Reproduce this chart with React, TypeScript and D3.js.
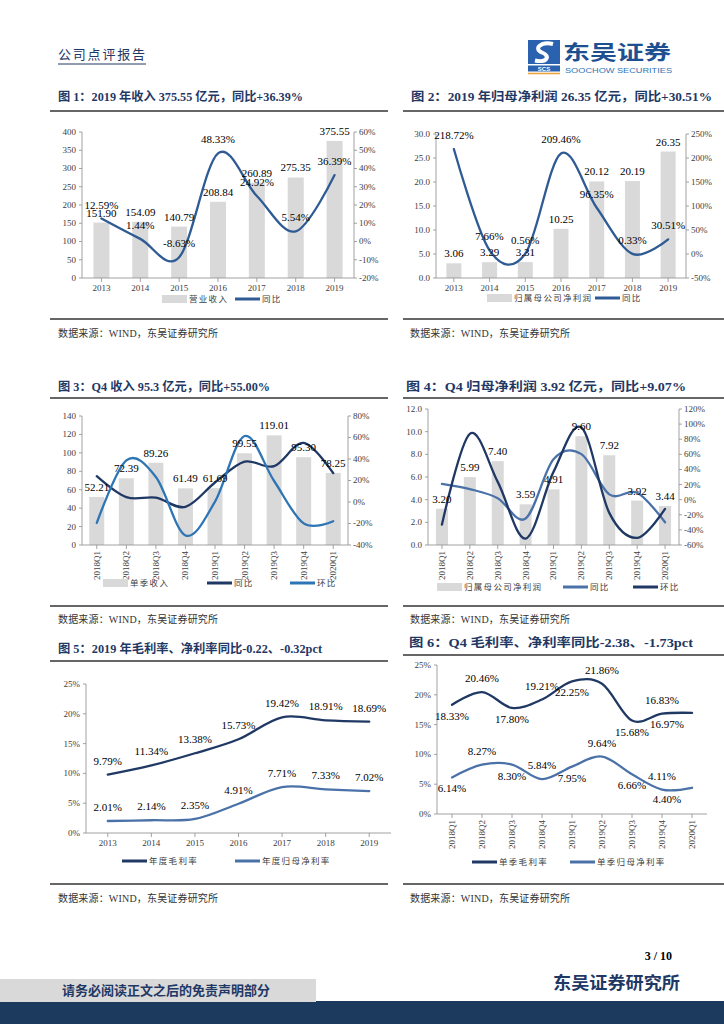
import React from 'react';
import * as d3 from 'd3';

// ---- data ----
const YEARS = ['2013', '2014', '2015', '2016', '2017', '2018', '2019'];
const QUARTERS = ['2018Q1', '2018Q2', '2018Q3', '2018Q4', '2019Q1', '2019Q2', '2019Q3', '2019Q4', '2020Q1'];

const REVENUE = [151.9, 154.09, 140.79, 208.84, 260.89, 275.35, 375.55];
const REVENUE_YOY = [12.59, 1.44, -8.63, 48.33, 24.92, 5.54, 36.39];

const NET_PROFIT = [3.06, 3.29, 3.31, 10.25, 20.12, 20.19, 26.35];
const NET_PROFIT_YOY = [218.72, 7.66, 0.56, 209.46, 96.35, 0.33, 30.51];

const Q_REVENUE = [52.21, 72.39, 89.26, 61.49, 61.69, 99.55, 119.01, 95.3, 78.25];
const Q_REVENUE_YOY = [24.0, 4.5, 4.0, -4.5, 18.16, 37.52, 33.33, 54.98, 26.84];
const Q_REVENUE_QOQ = [-19.5, 38.65, 23.3, -31.11, 0.33, 61.37, 19.55, -19.92, -17.89];

const Q_PROFIT = [3.2, 5.99, 7.4, 3.59, 4.91, 9.6, 7.92, 3.92, 3.44];
const Q_PROFIT_YOY = [21.0, 14.0, 2.0, -25.0, 53.44, 60.27, 7.03, 9.07, -29.94];
const Q_PROFIT_QOQ = [-33.0, 87.19, 23.54, -51.49, 36.77, 95.52, -17.5, -50.51, -12.24];

const GROSS_MARGIN = [9.79, 11.34, 13.38, 15.73, 19.42, 18.91, 18.69];
const NET_MARGIN = [2.01, 2.14, 2.35, 4.91, 7.71, 7.33, 7.02];

const Q_GROSS_MARGIN = [18.33, 20.46, 17.8, 19.21, 22.25, 21.86, 15.68, 16.83, 16.97];
const Q_NET_MARGIN = [6.14, 8.27, 8.3, 5.84, 7.95, 9.64, 6.66, 4.11, 4.4];

const TICKS_REV = [0, 50, 100, 150, 200, 250, 300, 350, 400];
const TICKS_REV_PCT = [-20, -10, 0, 10, 20, 30, 40, 50, 60];
const TICKS_NP = [0, 5, 10, 15, 20, 25, 30];
const TICKS_NP_PCT = [-50, 0, 50, 100, 150, 200, 250];
const TICKS_QREV = [0, 20, 40, 60, 80, 100, 120, 140];
const TICKS_QREV_PCT = [-40, -20, 0, 20, 40, 60, 80];
const TICKS_QNP = [0, 2, 4, 6, 8, 10, 12];
const TICKS_QNP_PCT = [-60, -40, -20, 0, 20, 40, 60, 80, 100, 120];
const TICKS_MARGIN = [0, 5, 10, 15, 20, 25];

// label placement for fig 6 (a = above, b = below, bl = below-left)
const Q_GROSS_POS = ['b', 'a', 'b', 'a', 'b', 'a', 'b', 'a', 'bl'];
const Q_NET_POS = ['b', 'a', 'b', 'a', 'b', 'a', 'b', 'a', 'bl'];

// ---- style ----
const SERIF = '"Liberation Serif", "Times New Roman", "Noto Sans CJK SC", serif';
const CJK = '"Noto Sans CJK SC", "Liberation Serif", sans-serif';
const NAVY = '#1f3864';
const AXIS = '#8c8c8c';
const TICK_TXT = '#404040';
const BAR = '#d9d9d9';
const MID_BLUE = '#2f5b94';
const LIGHT_BLUE = '#2e75b6';
const STEEL = '#4a72a8';

type LineSpec = {
  values: number[];
  color: string;
  right?: boolean;
  labels?: boolean;
  pos?: string[];
};
type LegendItem = { kind: 'bar' | 'line'; color: string; label: string; x: number };
type ChartProps = {
  box: { x0: number; x1: number; y0: number; y1: number };
  cats: string[];
  leftDomain: [number, number];
  leftTicks: number[];
  leftFmt: (d: number) => string;
  rightDomain?: [number, number];
  rightTicks?: number[];
  bars?: number[];
  barWidth?: number;
  lines: LineSpec[];
  rotate?: boolean;
  legendY: number;
  legend: LegendItem[];
};

const pct = (d: number) => `${d}%`;

function Chart(p: ChartProps) {
  const { x0, x1, y0, y1 } = p.box;
  const band = d3.scaleBand<string>().domain(p.cats).range([x0, x1]);
  const cx = (i: number) => (band(p.cats[i]) ?? 0) + band.bandwidth() / 2;
  const yL = d3.scaleLinear().domain(p.leftDomain).range([y1, y0]);
  const yR = p.rightDomain ? d3.scaleLinear().domain(p.rightDomain).range([y1, y0]) : yL;
  const bw = p.barWidth ?? 15;

  return (
    <g>
      {p.bars &&
        p.bars.map((v, i) => (
          <rect key={i} x={cx(i) - bw / 2} y={yL(v)} width={bw} height={y1 - yL(v)} fill={BAR} />
        ))}

      {/* axes */}
      <line x1={x0} x2={x0} y1={y0} y2={y1} stroke={AXIS} strokeWidth={0.8} />
      <line x1={x0} x2={x1} y1={y1} y2={y1} stroke={AXIS} strokeWidth={0.8} />
      {p.rightDomain && <line x1={x1} x2={x1} y1={y0} y2={y1} stroke={AXIS} strokeWidth={0.8} />}
      {p.leftTicks.map((t) => (
        <g key={`l${t}`}>
          <line x1={x0 - 3} x2={x0} y1={yL(t)} y2={yL(t)} stroke={AXIS} strokeWidth={0.8} />
          <text x={x0 - 6} y={yL(t)} dy="0.33em" textAnchor="end" fontSize={9} fill={TICK_TXT} fontFamily={SERIF}>
            {p.leftFmt(t)}
          </text>
        </g>
      ))}
      {p.rightTicks &&
        p.rightTicks.map((t) => (
          <g key={`r${t}`}>
            <line x1={x1} x2={x1 + 3} y1={yR(t)} y2={yR(t)} stroke={AXIS} strokeWidth={0.8} />
            <text x={x1 + 5} y={yR(t)} dy="0.33em" fontSize={9} fill={TICK_TXT} fontFamily={SERIF}>
              {pct(t)}
            </text>
          </g>
        ))}
      {p.cats.map((c, i) => (
        <g key={c}>
          <line x1={cx(i)} x2={cx(i)} y1={y1} y2={y1 + 4} stroke={AXIS} strokeWidth={0.8} />
          {p.rotate ? (
            <text
              transform={`translate(${cx(i)},${y1 + 6}) rotate(-90)`}
              dy="0.33em"
              textAnchor="end"
              fontSize={9}
              fill={TICK_TXT}
              fontFamily={SERIF}
            >
              {c}
            </text>
          ) : (
            <text x={cx(i)} y={y1 + 13} textAnchor="middle" fontSize={9} fill={TICK_TXT} fontFamily={SERIF}>
              {c}
            </text>
          )}
        </g>
      ))}

      {/* lines */}
      {p.lines.map((ln, k) => {
        const ys = ln.right ? yR : yL;
        const path = d3
          .line<number>()
          .x((_, i) => cx(i))
          .y((v) => ys(v))
          .curve(d3.curveCardinal.tension(0))(ln.values);
        return <path key={k} d={path ?? ''} fill="none" stroke={ln.color} strokeWidth={2.3} strokeLinecap="round" />;
      })}

      {/* bar labels */}
      {p.bars &&
        p.bars.map((v, i) => (
          <text key={`bl${i}`} x={cx(i)} y={yL(v) - 6} textAnchor="middle" fontSize={11} fill="#000" fontFamily={SERIF}>
            {v.toFixed(2)}
          </text>
        ))}

      {/* line labels */}
      {p.lines.map((ln, k) =>
        ln.labels
          ? ln.values.map((v, i) => {
              const ys = ln.right ? yR : yL;
              const pos = ln.pos ? ln.pos[i] : 'a';
              const dx = pos === 'bl' ? -25 : 0;
              const dy = pos === 'a' ? -10 : 15;
              return (
                <text
                  key={`ll${k}-${i}`}
                  x={cx(i) + dx}
                  y={ys(v) + dy}
                  textAnchor="middle"
                  fontSize={11}
                  fill="#000"
                  fontFamily={SERIF}
                >
                  {v.toFixed(2)}%
                </text>
              );
            })
          : null
      )}

      {/* legend */}
      {p.legend.map((it) => (
        <g key={it.label + it.x}>
          {it.kind === 'bar' ? (
            <rect x={it.x} y={p.legendY - 4} width={25} height={8} fill={BAR} />
          ) : (
            <line x1={it.x} x2={it.x + 25} y1={p.legendY} y2={p.legendY} stroke={it.color} strokeWidth={3} />
          )}
          <text
            x={it.x + 27}
            y={p.legendY}
            dy="0.35em"
            fontSize={8.5}
            letterSpacing={1.3}
            fill={TICK_TXT}
            fontFamily={CJK}
          >
            {it.label}
          </text>
        </g>
      ))}
    </g>
  );
}

function Title({ x, y, text, len }: { x: number; y: number; text: string; len: number }) {
  return (
    <text
      x={x}
      y={y}
      fontSize={12}
      fontWeight="bold"
      fill={NAVY}
      fontFamily={SERIF}
      textLength={len}
      lengthAdjust="spacingAndGlyphs"
    >
      {text}
    </text>
  );
}

function Source({ x, y }: { x: number; y: number }) {
  return (
    <text
      x={x}
      y={y}
      fontSize={10}
      fill="#333"
      fontFamily={'"Liberation Serif", "Noto Sans CJK SC"'}
      textLength={160}
      lengthAdjust="spacing"
    >
      数据来源：WIND，东吴证券研究所
    </text>
  );
}

function Rule({ x1, x2, y }: { x1: number; x2: number; y: number }) {
  return <line x1={x1} x2={x2} y1={y} y2={y} stroke="#333" strokeWidth={1.6} />;
}

export default function App() {
  return (
    <div style={{ position: 'absolute', left: 0, top: 0, width: 724, height: 1024, background: '#fff' }}>
      <svg width={724} height={1024} style={{ display: 'block' }}>
        {/* header */}
        <text x={58} y={59} fontSize={13} fill={NAVY} fontFamily={CJK} textLength={87} lengthAdjust="spacing">
          公司点评报告
        </text>
        <line x1={58} x2={146} y1={64} y2={64} stroke={NAVY} strokeWidth={1} />
        <g>
          <rect x={528} y={40} width={32} height={24} fill="#2a62b0" />
          <path d="M553 44 C541 41, 533 49, 542 52.5 C551 56, 547 63, 535 60.5" fill="none" stroke="#fff" strokeWidth={4} />
          <rect x={528} y={65.5} width={32} height={6} fill="#2a62b0" />
          <text x={544} y={70.8} textAnchor="middle" fontSize={6} fontWeight="bold" fill="#fff" fontFamily="Liberation Sans">
            SCS
          </text>
          <line x1={528} x2={560} y1={73.5} y2={73.5} stroke="#f0a43c" strokeWidth={1.6} />
          <text x={563} y={60} fontSize={20} fontWeight="bold" fill="#1d4f91" fontFamily={CJK} textLength={108} lengthAdjust="spacingAndGlyphs">
            东吴证券
          </text>
          <text x={565} y={73} fontSize={8} fill="#2e75b6" fontFamily="Liberation Sans" textLength={107} lengthAdjust="spacingAndGlyphs">
            SOOCHOW SECURITIES
          </text>
        </g>

        {/* row 1 */}
        <Title x={58} y={101} len={245} text="图 1：2019 年收入 375.55 亿元，同比+36.39%" />
        <Title x={411} y={101} len={301} text="图 2：2019 年归母净利润 26.35 亿元，同比+30.51%" />
        <Rule x1={50} x2={388} y={111} />
        <Rule x1={403} x2={724} y={111} />

        <Chart
          box={{ x0: 82, x1: 354, y0: 132, y1: 278 }}
          cats={YEARS}
          leftDomain={[0, 400]}
          leftTicks={TICKS_REV}
          leftFmt={(d) => String(d)}
          rightDomain={[-20, 60]}
          rightTicks={TICKS_REV_PCT}
          bars={REVENUE}
          barWidth={16}
          lines={[{ values: REVENUE_YOY, color: MID_BLUE, right: true, labels: true }]}
          legendY={299}
          legend={[
            { kind: 'bar', color: BAR, label: '营业收入', x: 162 },
            { kind: 'line', color: MID_BLUE, label: '同比', x: 235 },
          ]}
        />
        <Chart
          box={{ x0: 436, x1: 686, y0: 134, y1: 278 }}
          cats={YEARS}
          leftDomain={[0, 30]}
          leftTicks={TICKS_NP}
          leftFmt={(d) => d.toFixed(1)}
          rightDomain={[-50, 250]}
          rightTicks={TICKS_NP_PCT}
          bars={NET_PROFIT}
          barWidth={15}
          lines={[{ values: NET_PROFIT_YOY, color: MID_BLUE, right: true, labels: true }]}
          legendY={298}
          legend={[
            { kind: 'bar', color: BAR, label: '归属母公司净利润', x: 487 },
            { kind: 'line', color: MID_BLUE, label: '同比', x: 595 },
          ]}
        />
        <Rule x1={50} x2={388} y={319} />
        <Rule x1={403} x2={724} y={319} />
        <Source x={58} y={337} />
        <Source x={410} y={337} />

        {/* row 2 */}
        <Title x={58} y={391} len={212} text="图 3：Q4 收入 95.3 亿元，同比+55.00%" />
        <Title x={406} y={391} len={280} text="图 4：Q4 归母净利润 3.92 亿元，同比+9.07%" />
        <Rule x1={50} x2={388} y={398} />
        <Rule x1={403} x2={724} y={398} />

        <Chart
          box={{ x0: 82, x1: 348, y0: 416, y1: 545 }}
          cats={QUARTERS}
          leftDomain={[0, 140]}
          leftTicks={TICKS_QREV}
          leftFmt={(d) => String(d)}
          rightDomain={[-40, 80]}
          rightTicks={TICKS_QREV_PCT}
          bars={Q_REVENUE}
          barWidth={15}
          rotate
          lines={[
            { values: Q_REVENUE_YOY, color: NAVY, right: true },
            { values: Q_REVENUE_QOQ, color: LIGHT_BLUE, right: true },
          ]}
          legendY={583}
          legend={[
            { kind: 'bar', color: BAR, label: '单季收入', x: 103 },
            { kind: 'line', color: NAVY, label: '同比', x: 207 },
            { kind: 'line', color: LIGHT_BLUE, label: '环比', x: 290 },
          ]}
        />
        <Chart
          box={{ x0: 428, x1: 679, y0: 409, y1: 545 }}
          cats={QUARTERS}
          leftDomain={[0, 12]}
          leftTicks={TICKS_QNP}
          leftFmt={(d) => d.toFixed(1)}
          rightDomain={[-60, 120]}
          rightTicks={TICKS_QNP_PCT}
          bars={Q_PROFIT}
          barWidth={12}
          rotate
          lines={[
            { values: Q_PROFIT_YOY, color: STEEL, right: true },
            { values: Q_PROFIT_QOQ, color: NAVY, right: true },
          ]}
          legendY={587}
          legend={[
            { kind: 'bar', color: BAR, label: '归属母公司净利润', x: 437 },
            { kind: 'line', color: STEEL, label: '同比', x: 563 },
            { kind: 'line', color: NAVY, label: '环比', x: 633 },
          ]}
        />
        <Rule x1={50} x2={388} y={606} />
        <Rule x1={403} x2={724} y={606} />
        <Source x={58} y={623} />
        <Source x={410} y={623} />

        {/* row 3 */}
        <Title x={58} y={653} len={264} text="图 5：2019 年毛利率、净利率同比-0.22、-0.32pct" />
        <Title x={409} y={647} len={284} text="图 6：Q4 毛利率、净利率同比-2.38、-1.73pct" />
        <Rule x1={50} x2={388} y={661} />
        <Rule x1={403} x2={724} y={655} />

        <Chart
          box={{ x0: 86, x1: 391, y0: 684, y1: 833 }}
          cats={YEARS}
          leftDomain={[0, 25]}
          leftTicks={TICKS_MARGIN}
          leftFmt={pct}
          lines={[
            { values: GROSS_MARGIN, color: NAVY, labels: true },
            { values: NET_MARGIN, color: STEEL, labels: true },
          ]}
          legendY={861}
          legend={[
            { kind: 'line', color: NAVY, label: '年度毛利率', x: 122 },
            { kind: 'line', color: STEEL, label: '年度归母净利率', x: 235 },
          ]}
        />
        <Chart
          box={{ x0: 437, x1: 707, y0: 665, y1: 814 }}
          cats={QUARTERS}
          leftDomain={[0, 25]}
          leftTicks={TICKS_MARGIN}
          leftFmt={pct}
          rotate
          lines={[
            { values: Q_GROSS_MARGIN, color: NAVY, labels: true, pos: Q_GROSS_POS },
            { values: Q_NET_MARGIN, color: STEEL, labels: true, pos: Q_NET_POS },
          ]}
          legendY={862}
          legend={[
            { kind: 'line', color: NAVY, label: '单季毛利率', x: 472 },
            { kind: 'line', color: STEEL, label: '单季归母净利率', x: 570 },
          ]}
        />
        <Rule x1={50} x2={388} y={884} />
        <Rule x1={403} x2={724} y={884} />
        <Source x={58} y={902} />
        <Source x={410} y={902} />

        {/* footer */}
        <text x={672} y={960} textAnchor="end" fontSize={12} fontWeight="bold" fill="#000" fontFamily={SERIF}>
          3 / 10
        </text>
        <text x={553} y={989} fontSize={17} fontWeight="bold" fill={NAVY} fontFamily={CJK} textLength={127} lengthAdjust="spacingAndGlyphs">
          东吴证券研究所
        </text>
        <rect x={0} y={1001} width={724} height={23} fill="#1b3a5e" />
        <rect x={0} y={979} width={316} height={23} fill="#d9d9d9" />
        <text x={62} y={995} fontSize={13} fontWeight="bold" fill={NAVY} fontFamily={CJK} textLength={208} lengthAdjust="spacingAndGlyphs">
          请务必阅读正文之后的免责声明部分
        </text>
      </svg>
    </div>
  );
}
